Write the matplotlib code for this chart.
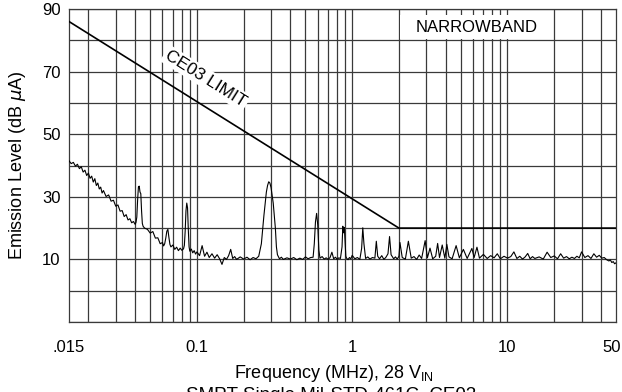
import numpy as np
import matplotlib
matplotlib.use("Agg")
import matplotlib.pyplot as plt
from matplotlib.patches import Rectangle
from matplotlib.transforms import ScaledTranslation

plt.rcParams['font.family'] = ['Liberation Sans', 'DejaVu Sans']

# conducted emission scan, narrowband detector
freq_mhz = [
    0.015, 0.0155, 0.016, 0.0165, 0.017, 0.0175, 0.018, 0.0185, 0.019, 0.0195,
    0.020, 0.0205, 0.021, 0.0215, 0.022, 0.0225, 0.023, 0.0235, 0.024, 0.0245,
    0.025, 0.026, 0.027, 0.028, 0.029, 0.030, 0.031, 0.032, 0.033, 0.034,
    0.035, 0.036, 0.037, 0.038, 0.039, 0.040,
    0.0405, 0.041, 0.0415, 0.042, 0.0425, 0.043, 0.0435, 0.044, 0.0445, 0.045,
    0.046, 0.048, 0.050, 0.052, 0.054, 0.056, 0.058, 0.060, 0.061, 0.062,
    0.063, 0.064, 0.065, 0.066, 0.067, 0.068, 0.070, 0.072, 0.074, 0.076,
    0.078, 0.080, 0.082, 0.083, 0.084, 0.085, 0.086, 0.087, 0.088, 0.089,
    0.090, 0.092, 0.094, 0.096, 0.098, 0.100,
    0.104, 0.108, 0.112, 0.116, 0.12, 0.125, 0.13, 0.135, 0.14, 0.145,
    0.15, 0.155, 0.16, 0.165, 0.17, 0.175, 0.18, 0.19, 0.20, 0.21,
    0.22, 0.23, 0.24, 0.25, 0.26, 0.27, 0.28, 0.285, 0.29, 0.295,
    0.30, 0.31, 0.32, 0.325, 0.33, 0.34, 0.35, 0.36, 0.38, 0.40,
    0.42, 0.44, 0.46, 0.48, 0.50, 0.52, 0.54, 0.56, 0.57, 0.58,
    0.59, 0.60, 0.61, 0.62, 0.64, 0.66, 0.68, 0.70, 0.72, 0.74,
    0.76, 0.78, 0.80, 0.82, 0.84, 0.86, 0.87, 0.88, 0.89, 0.90,
    0.91, 0.92, 0.94, 0.96, 0.98, 1.0,
    1.04, 1.08, 1.12, 1.15, 1.17, 1.19, 1.22, 1.26, 1.3, 1.35,
    1.4, 1.43, 1.46, 1.5, 1.55, 1.6, 1.65, 1.7, 1.74, 1.78,
    1.85, 1.9, 1.95, 2.0, 2.03, 2.1, 2.2, 2.3, 2.4, 2.5,
    2.6, 2.7, 2.8, 2.95, 3.05, 3.17, 3.3, 3.45, 3.55, 3.65,
    3.8, 3.95, 4.07, 4.2, 4.4, 4.67, 4.9, 5.2, 5.5, 5.9,
    6.1, 6.36, 6.6, 7.0, 7.4, 7.8, 8.2, 8.6, 9.0, 9.5,
    10.0,
    10.5, 11, 11.5, 12, 12.5, 13, 13.5, 14, 14.5, 15,
    16, 17, 18, 19, 20, 21, 22, 23, 24, 25,
    26, 27, 28, 29, 30, 31.5, 33, 34.5, 36, 37.5,
    39, 40.5, 42, 43.5, 45, 46, 47, 48, 49, 50,
]

level_dbua = [
    41.5, 40.6, 41.0, 39.8, 40.4, 39.0, 39.6, 37.9, 38.5, 36.8,
    37.6, 35.9, 36.6, 34.7, 35.8, 33.6, 34.4, 32.5, 33.1, 31.2,
    32.0, 30.1, 30.6, 28.6, 28.9, 27.0, 27.4, 25.4, 25.6, 23.7,
    24.3, 22.6, 23.0, 21.7, 22.1, 21.2,
    21.8, 23.5, 29.0, 33.2, 33.4, 31.5, 31.0, 25.5, 21.5, 20.6,
    20.0, 19.6, 18.4, 18.9, 16.8, 16.9, 15.0, 15.4, 14.3, 15.0,
    16.8, 19.0, 19.6, 17.0, 14.8, 14.0, 14.6, 13.2, 13.9, 12.8,
    13.6, 12.9, 13.4, 14.5, 19.0, 25.5, 28.0, 26.5, 19.5, 14.0,
    12.6, 13.3, 12.1, 12.8, 11.7, 12.4,
    11.2, 14.4, 11.0, 12.3, 10.6, 11.8, 10.4, 11.5, 10.2, 8.4,
    10.6, 10.0, 11.2, 13.2, 10.3, 10.9, 10.0, 10.8, 10.1, 10.7,
    9.9, 10.6, 10.2, 11.0, 15.0, 24.0, 31.5, 33.6, 34.8, 34.4,
    33.0, 28.0, 20.0, 14.0, 11.5, 10.2, 10.7, 10.0, 10.5, 10.1,
    10.6, 9.9, 10.4, 10.0, 10.8, 10.2, 10.6, 10.7, 15.0, 22.0,
    24.7, 21.0, 13.0, 10.4, 10.9, 10.1, 10.5, 10.0, 10.6, 12.3,
    10.2, 10.7, 10.0, 10.5, 10.3, 14.0, 20.6, 18.5, 20.2, 15.5,
    11.0, 10.4, 9.9, 10.6, 10.2, 11.3,
    10.2, 10.6, 10.0, 13.5, 20.1, 15.0, 10.3, 10.8, 10.1, 10.6,
    10.4, 15.8, 11.0, 10.2, 11.2, 10.0, 10.7, 11.8, 17.3, 11.5,
    10.2, 10.8, 10.1, 11.0, 15.4, 10.6, 10.1, 15.8, 10.4, 10.9,
    10.0, 11.4, 10.3, 16.0, 10.5, 13.6, 10.2, 11.0, 15.1, 10.6,
    14.6, 10.4, 14.8, 10.8, 10.2, 14.4, 10.5, 13.2, 10.3, 13.5,
    10.6, 13.9, 10.4, 11.6, 10.3, 11.2, 10.5, 11.8, 10.2, 11.0,
    10.4,
    10.9, 12.4, 10.3, 11.0, 10.1, 10.8, 11.9, 10.2, 10.9, 10.3,
    10.8, 10.1, 12.3, 10.6, 11.1, 10.2, 11.8, 10.4, 10.9, 10.2,
    10.7, 10.3, 11.0, 10.5, 12.4, 10.6, 11.2, 10.3, 11.8, 10.7,
    11.3, 10.4, 10.6, 9.9, 9.5, 9.8, 9.0, 9.3, 8.6, 8.9,
]

# MIL-STD-461C CE03 narrowband limit
limit_freq = [0.015, 2.0, 50.0]
limit_level = [86.0, 20.0, 20.0]

xtick_vals = [0.015, 0.1, 1, 10, 50]
xtick_labels = ['.015', '0.1', '1', '10', '50']
ytick_vals = [10, 30, 50, 70, 90]

grid_x = ([0.01 * k for k in range(2, 10)] + [0.1 * k for k in range(1, 10)]
          + [1.0 * k for k in range(1, 10)] + [10.0 * k for k in range(1, 5)])
grid_y = list(range(-10, 91, 10))

fig = plt.figure(figsize=(6.22, 3.92), dpi=100)
ax = fig.add_axes([69 / 622, 1 - 322 / 392, 547 / 622, 313 / 392])

ax.set_xscale('log')
ax.set_xlim(0.015, 50)
ax.set_ylim(-10, 90)

gcol = '#3a3a3a'
for gx in grid_x:
    ax.axvline(gx, color=gcol, lw=0.9, zorder=1)
for gy in grid_y:
    ax.axhline(gy, color=gcol, lw=0.9, zorder=1)

ax.plot(freq_mhz, level_dbua, color='black', lw=0.8, zorder=4)
ax.plot(limit_freq, limit_level, color='black', lw=1.2, zorder=4)

# label block for the detector type
ax.add_patch(Rectangle((2.03, 80.4), 19.7 - 2.03, 7.7, facecolor='white',
                       edgecolor='none', zorder=2))
ax.text(6.3, 84.2, 'NARROWBAND', fontsize=12, ha='center', va='center', zorder=5)

ax.text(0.114, 67.8, 'CE03 LIMIT', fontsize=12.5, ha='center', va='center',
        rotation=-32.1, rotation_mode='anchor', zorder=5,
        bbox=dict(facecolor='white', edgecolor='none', pad=1.5))

ax.set_xticks(xtick_vals)
ax.set_xticklabels(xtick_labels)
ax.xaxis.set_minor_locator(matplotlib.ticker.NullLocator())
ax.set_yticks(ytick_vals)
ax.tick_params(axis='both', length=0, labelsize=12)
ax.tick_params(axis='x', pad=13)
ax.tick_params(axis='y', pad=6)

# keep the last frequency label inside the figure
last = ax.get_xticklabels()[-1]
last.set_transform(last.get_transform() + ScaledTranslation(-4 / 100, 0, fig.dpi_scale_trans))

for sp in ax.spines.values():
    sp.set_color(gcol)
    sp.set_linewidth(0.9)

ax.set_xlabel('Frequency (MHz), 28 V$_{\\mathregular{IN}}$', fontsize=13)
ax.xaxis.set_label_coords(0.485, -0.13)
ax.set_ylabel('Emission Level (dB $\\mathit{\\mu}$A)', fontsize=13)
ax.yaxis.set_label_coords(-0.075, 0.5)

fig.text(331 / 622, 1 - 387 / 392, 'SMPT Single Mil-STD-461C, CE03',
         fontsize=13.5, ha='center', va='top')

fig.savefig('out.png', dpi=100)
